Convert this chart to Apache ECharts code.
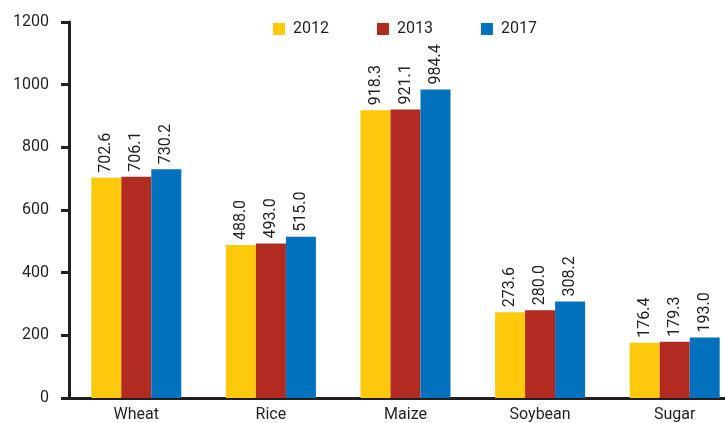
<!DOCTYPE html>
<html>
<head>
<meta charset="utf-8">
<script src="https://cdn.jsdelivr.net/npm/echarts@6/dist/echarts.min.js"></script>
<style>
  html, body { margin: 0; padding: 0; background: #fff; }
  #chart { width: 725px; height: 423px; }
</style>
</head>
<body>
<div id="chart"></div>
<script>
// Crop production by commodity
const categories = ['Wheat', 'Rice', 'Maize', 'Soybean', 'Sugar'];
const years = ['2012', '2013', '2017'];
const values2012 = [702.6, 488.0, 918.3, 273.6, 176.4];
const values2013 = [706.1, 493.0, 921.1, 280.0, 179.3];
const values2017 = [730.2, 515.0, 984.4, 308.2, 193.0];
const yTicks = [0, 200, 400, 600, 800, 1000, 1200];

const colors = ['#FEC90A', '#B12B22', '#0171BD'];
const textColor = '#231F20';
const fontFamily = 'Roboto, "DejaVu Sans", sans-serif';

const seriesData = [values2012, values2013, values2017];

const chart = echarts.init(document.getElementById('chart'));
chart.setOption({
  animation: false,
  color: colors,
  textStyle: { fontFamily: fontFamily, color: textColor },
  legend: {
    top: 16,
    left: 268,
    itemWidth: 12,
    itemHeight: 12,
    itemGap: 48,
    icon: 'rect',
    textStyle: { fontSize: 16, color: textColor, fontFamily: fontFamily, padding: [0, 0, 0, 3] },
    data: years
  },
  grid: { left: 69, right: -17, top: 22, bottom: 25, outerBoundsMode: 'none', containLabel: false },
  xAxis: {
    type: 'category',
    data: categories,
    axisLine: { lineStyle: { color: '#231F20', width: 3 } },
    axisTick: { show: false },
    axisLabel: { fontSize: 16, color: textColor, margin: 9, fontFamily: fontFamily }
  },
  yAxis: {
    type: 'value',
    min: yTicks[0],
    max: yTicks[yTicks.length - 1],
    interval: 200,
    axisLine: { show: true, lineStyle: { color: '#231F20', width: 3 } },
    axisTick: { show: true, length: 8, lineStyle: { color: '#231F20', width: 3 } },
    axisLabel: {
      fontSize: 16, color: textColor, margin: 20, fontFamily: fontFamily,
      formatter: v => String(v)
    },
    splitLine: { show: false }
  },
  series: years.map((y, i) => ({
    name: y,
    type: 'bar',
    data: seriesData[i],
    barWidth: 30,
    barGap: '0%',
    label: {
      show: true,
      position: 'top',
      rotate: 90,
      align: 'left',
      verticalAlign: 'middle',
      distance: 5,
      fontSize: 16,
      color: textColor,
      fontFamily: fontFamily,
      formatter: p => p.value.toFixed(1)
    }
  }))
});
</script>
</body>
</html>
